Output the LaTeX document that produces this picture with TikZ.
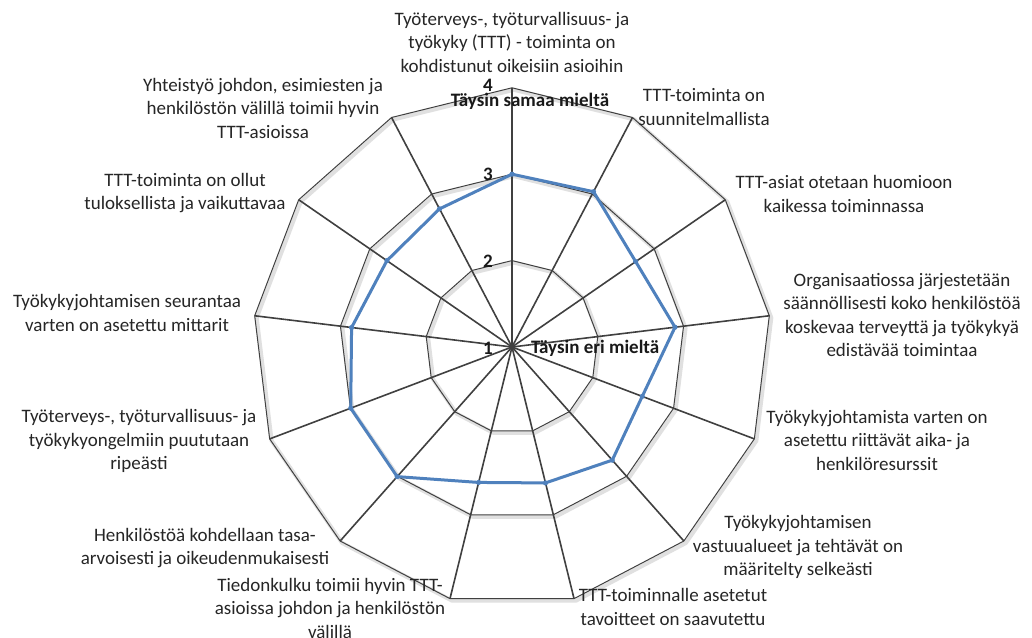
\documentclass[tikz,border=0pt]{standalone}
\usepackage{fontspec}
\setmainfont{Carlito}
\definecolor{serblue}{HTML}{4F81BD}
\definecolor{gridgray}{HTML}{404040}
\begin{document}
\begin{tikzpicture}[x=1pt,y=1pt,
  lbl/.style={align=center, font=\fontsize{19}{23.5}\selectfont, text=black!85, inner sep=0pt},
  scl/.style={font=\fontsize{19}{23.5}\selectfont\bfseries, text=black!90, inner sep=0pt},
  spoke/.style={draw=gridgray, line width=1.6pt},
  ring/.style={draw=gridgray, line width=1pt, line join=round},
  ringshadow/.style={draw=black!12, line width=4pt, line join=round},
  series/.style={draw=serblue, line width=3pt, line join=round}]
\useasboundingbox (0,0) rectangle (1032,637);
\fill[white] (0,0) rectangle (1032,637);
\coordinate (O) at (512,290);
\begin{scope}[shift={(512,290)}]
  % shadows of rings
  \foreach \r in {86.4,172.8,259.2}{
    \draw[ringshadow, shift={(2,-2)}] (90:\r) \foreach \k in {1,...,12}{ -- ({90-\k*360/13}:\r)} -- cycle;
  }
  % rings
  \foreach \r in {86.4,172.8,259.2}{
    \draw[ring] (90:\r) \foreach \k in {1,...,12}{ -- ({90-\k*360/13}:\r)} -- cycle;
  }
  % outer vertices
  \foreach \k in {0,...,12}{
    \coordinate (v\k) at ({90-\k*360/13}:259.2);
  }
\end{scope}
% spokes
\foreach \k in {0,...,12}{
  \draw[spoke] (O) -- (v\k);
}
% data series
\begin{scope}[shift={(512,290)}]
  \draw[series] (90:172.8) -- (62.31:175.4) -- (34.62:150.3) -- (6.92:164.2)
    -- (-20.77:139.3) -- (-48.46:151.2) -- (-76.15:140) -- (-103.85:139.5)
    -- (-131.54:173.2) -- (-159.23:172.5) -- (173.08:161.6) -- (145.38:152)
    -- (117.69:156) -- cycle;
  \foreach \a/\r in {90/172.8,62.31/175.4,34.62/150.3,6.92/164.2,-20.77/139.3,-48.46/151.2,-76.15/140,-103.85/139.5,-131.54/173.2,-159.23/172.5,173.08/161.6,145.38/152,117.69/156}{
    \fill[serblue] (\a:\r) circle (2.6);
  }
\end{scope}
% scale labels
\node[scl] (s4) at (488,552) {4};
\node[scl] (s3) at (488,463) {3};
\node[scl] (s2) at (488,376) {2};
\node[scl] (s1) at (488,289) {1};
\node[scl] (smax) at (530,536) {Täysin samaa mieltä};
\node[scl, anchor=west] (smin) at (531,289) {Täysin eri mieltä};
% axis labels
\node[lbl] (l0) at (512,595) {Työterveys-, työturvallisuus- ja\\työkyky (TTT) - toiminta on\\kohdistunut oikeisiin asioihin};
\node[lbl] (l1) at (704,530) {TTT-toiminta on\\suunnitelmallista};
\node[lbl] (l2) at (844,443) {TTT-asiat otetaan huomioon\\kaikessa toiminnassa};
\node[lbl] (l3) at (902,322) {Organisaatiossa järjestetään\\säännöllisesti koko henkilöstöä\\koskevaa terveyttä ja työkykyä\\edistävää toimintaa};
\node[lbl] (l4) at (877,197) {Työkykyjohtamista varten on\\asetettu riittävät aika- ja\\henkilöresurssit};
\node[lbl] (l5) at (798,90) {Työkykyjohtamisen\\vastuualueet ja tehtävät on\\määritelty selkeästi};
\node[lbl] (l6) at (673,30) {TTT-toiminnalle asetetut\\tavoitteet on saavutettu};
\node[lbl] (l7) at (330,29) {Tiedonkulku toimii hyvin TTT-\\asioissa johdon ja henkilöstön\\välillä};
\node[lbl] (l8) at (205,89) {Henkilöstöä kohdellaan tasa-\\arvoisesti ja oikeudenmukaisesti};
\node[lbl] (l9) at (139,196) {Työterveys-, työturvallisuus- ja\\työkykyongelmiin puututaan\\ripeästi};
\node[lbl] (l10) at (127,324) {Työkykyjohtamisen seurantaa\\varten on asetettu mittarit};
\node[lbl] (l11) at (185,444) {TTT-toiminta on ollut\\tuloksellista ja vaikuttavaa};
\node[lbl] (l12) at (263,529) {Yhteistyö johdon, esimiesten ja\\henkilöstön välillä toimii hyvin\\TTT-asioissa};
\end{tikzpicture}
\end{document}
